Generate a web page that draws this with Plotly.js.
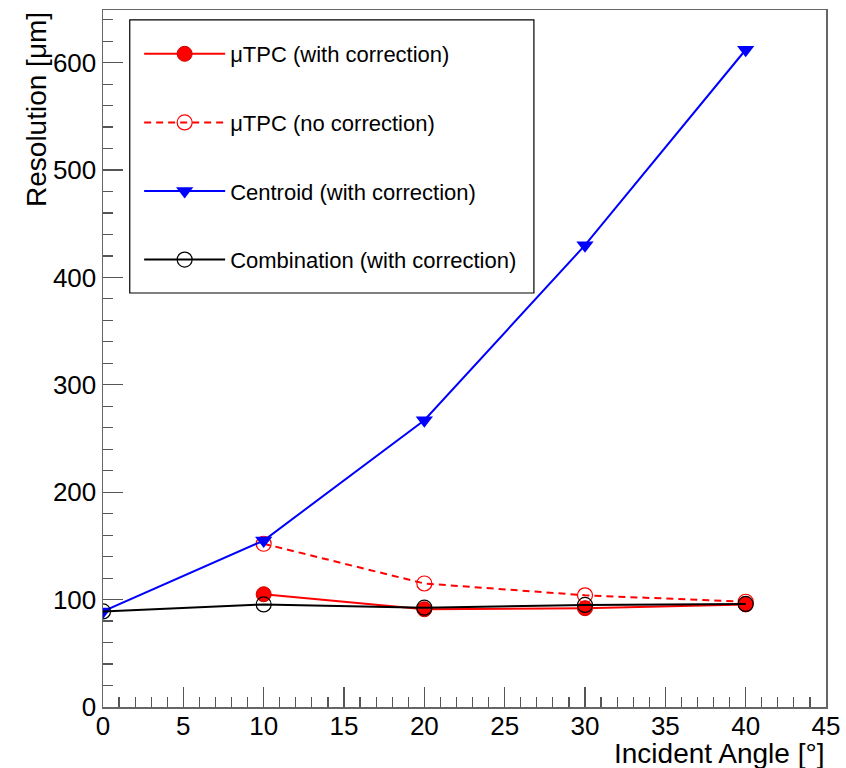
<!DOCTYPE html>
<html>
<head>
<meta charset="utf-8">
<script src="https://cdn.plot.ly/plotly-3.0.1.min.js"></script>
<style>
  html, body { margin: 0; padding: 0; background: #fff; }
  #chart { width: 846px; height: 768px; }
</style>
</head>
<body>
<div id="chart"></div>
<script>
// Incident angles in degrees
const anglesAll = [0, 10, 20, 30, 40];
const anglesTPC = [10, 20, 30, 40];

// Spatial resolution in micrometres
const tpcCorrected = [105, 91, 92, 95.5];
const tpcUncorrected = [152, 115, 104, 98];
const centroidCorrected = [89, 155, 267, 430, 612];
const combinationCorrected = [89, 95.5, 92.5, 95, 96];

const seriesNames = [
  'μTPC (with correction)',
  'μTPC (no correction)',
  'Centroid (with correction)',
  'Combination (with correction)'
];

const FONT = 'Liberation Sans, Arial, Helvetica, sans-serif';

const traces = [
  {
    x: anglesTPC, y: tpcCorrected, name: seriesNames[0], legendgroup: 'a',
    mode: 'lines+markers', type: 'scatter',
    line: { color: '#ff0000', width: 2 },
    marker: { symbol: 'circle', size: 15, color: '#ff0000', line: { color: '#cc0000', width: 1 } }
  },
  {
    x: anglesTPC, y: tpcUncorrected, name: seriesNames[1], legendgroup: 'b',
    mode: 'lines+markers', type: 'scatter',
    line: { color: '#ff0000', width: 2, dash: '7px,5px' },
    marker: { symbol: 'circle-open', size: 15, color: '#ff0000', line: { color: '#ff0000', width: 1.2 } }
  },
  {
    x: anglesAll, y: centroidCorrected, name: seriesNames[2], legendgroup: 'c',
    mode: 'lines+markers', type: 'scatter',
    line: { color: '#0000ff', width: 2 },
    marker: { symbol: 'triangle-down', size: 15, color: '#0000ff', line: { width: 0 } }
  },
  {
    x: anglesAll, y: combinationCorrected, name: seriesNames[3], legendgroup: 'd',
    mode: 'lines+markers', type: 'scatter',
    line: { color: '#000000', width: 2 },
    marker: { symbol: 'circle-open', size: 15, color: '#000000', line: { color: '#000000', width: 1.2 } }
  }
];

const layout = {
  width: 846, height: 768,
  margin: { l: 103, r: 20, t: 10, b: 61, pad: 0 },
  paper_bgcolor: '#ffffff', plot_bgcolor: '#ffffff',
  font: { family: FONT, color: '#000000' },
  showlegend: true,
  legend: {
    x: 0.05, y: 0.967, xanchor: 'left', yanchor: 'top',
    bgcolor: 'rgba(255,255,255,0)', borderwidth: 0,
    font: { family: FONT, size: 22, color: '#000000' },
    traceorder: 'grouped', tracegroupgap: 37, itemwidth: 81
  },
  xaxis: {
    range: [0, 45], dtick: 5, tick0: 0,
    showgrid: false, zeroline: false,
    showline: true, mirror: true, linecolor: '#666666', linewidth: 1.5,
    ticks: 'inside', ticklen: 20, tickwidth: 1.2, tickcolor: '#555555',
    minor: { dtick: 1, ticks: 'inside', ticklen: 10, tickwidth: 1.2, tickcolor: '#555555' },
    tickfont: { family: FONT, size: 26, color: '#000000' },
    ticklabelstandoff: -5
  },
  yaxis: {
    range: [0, 649], dtick: 100, tick0: 0,
    showgrid: false, zeroline: false,
    showline: true, mirror: true, linecolor: '#666666', linewidth: 1.5,
    ticks: 'inside', ticklen: 20, tickwidth: 1.2, tickcolor: '#555555',
    minor: { dtick: 20, ticks: 'inside', ticklen: 10, tickwidth: 1.2, tickcolor: '#555555' },
    tickfont: { family: FONT, size: 26, color: '#000000' }
  },
  shapes: [
    {
      type: 'rect', xref: 'paper', yref: 'paper',
      x0: 0.037, x1: 0.596, y0: 0.594, y1: 0.9857,
      line: { color: '#000000', width: 1.2 }, fillcolor: 'rgba(0,0,0,0)', layer: 'below'
    }
  ],
  annotations: [
    {
      text: 'Incident Angle [°]', xref: 'paper', yref: 'paper',
      x: 1, y: -0.066, xanchor: 'right', yanchor: 'middle', showarrow: false,
      font: { family: FONT, size: 28, color: '#000000' }
    },
    {
      text: 'Resolution [μm]', xref: 'paper', yref: 'paper', textangle: -90,
      x: -0.092, y: 1, xanchor: 'center', yanchor: 'top', showarrow: false,
      font: { family: FONT, size: 28, color: '#000000' }
    }
  ]
};

Plotly.newPlot('chart', traces, layout, { displayModeBar: false, staticPlot: true });
</script>
</body>
</html>
